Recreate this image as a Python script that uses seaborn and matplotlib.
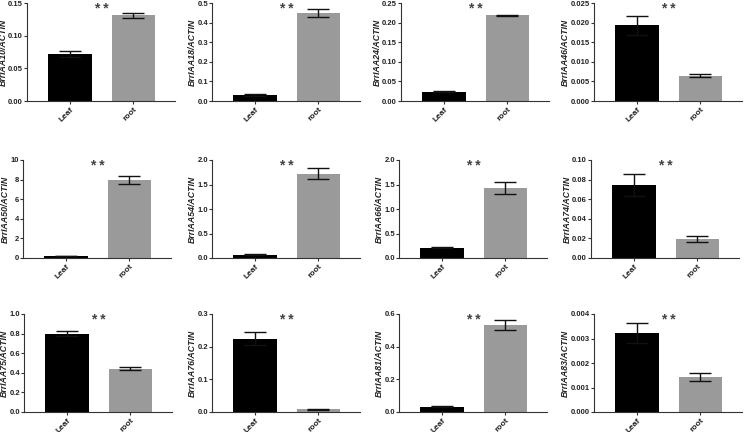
import matplotlib
matplotlib.use("Agg")
import matplotlib.pyplot as plt
import matplotlib.transforms as mtransforms
import seaborn as sns
import pandas as pd
import numpy as np

genes = ["BrrIAA10", "BrrIAA18", "BrrIAA24", "BrrIAA46",
         "BrrIAA50", "BrrIAA54", "BrrIAA66", "BrrIAA74",
         "BrrIAA75", "BrrIAA76", "BrrIAA81", "BrrIAA83"]
tissues = ["Leaf", "root"]
leaf_means = [0.072, 0.031, 0.024, 0.0193, 0.20, 0.07, 0.21, 0.0745, 0.80, 0.224, 0.032, 0.00322]
leaf_err = [0.004, 0.003, 0.001, 0.0024, 0.02, 0.01, 0.01, 0.0115, 0.027, 0.020, 0.002, 0.00042]
root_means = [0.131, 0.448, 0.219, 0.0065, 7.95, 1.72, 1.43, 0.0195, 0.443, 0.008, 0.533, 0.00144]
root_err = [0.004, 0.020, 0.0015, 0.00045, 0.40, 0.115, 0.13, 0.0028, 0.017, 0.0015, 0.033, 0.00016]
y_max = [0.15, 0.5, 0.25, 0.025, 10, 2.0, 2.0, 0.10, 1.0, 0.3, 0.6, 0.004]
y_step = [0.05, 0.1, 0.05, 0.005, 2, 0.5, 0.5, 0.02, 0.2, 0.1, 0.2, 0.001]
y_decimals = [2, 1, 2, 3, 0, 1, 1, 2, 1, 1, 1, 3]
signif = "* *"

sns.set_theme(style="ticks")
plt.rcParams['font.family'] = ['Liberation Sans', 'DejaVu Sans']

W, H = 744, 432
fig = plt.figure(figsize=(W / 100, H / 100), dpi=100)

# layout in pixels
lefts = [27, 212, 401, 594,
         23, 212, 399, 591,
         24, 212, 399, 594]
row_tops = [3, 160, 314]
row_h = 98
unit = 63.3
x_lo, x_hi = -0.68, 1.66
ax_w = (x_hi - x_lo) * unit

colors = ["#000000", "#9a9a9a"]

for i, g in enumerate(genes):
    r = i // 4
    left = lefts[i]
    top = row_tops[r]
    ax = fig.add_axes([left / W, (H - top - row_h) / H, ax_w / W, row_h / H])
    df = pd.DataFrame({"tissue": tissues, "value": [leaf_means[i], root_means[i]]})
    sns.barplot(data=df, x="tissue", y="value", hue="tissue", palette=colors,
                width=0.69, errorbar=None, legend=False, ax=ax, saturation=1,
                linewidth=0)
    ax.errorbar([0, 1], [leaf_means[i], root_means[i]],
                yerr=[leaf_err[i], root_err[i]], fmt="none", ecolor="#111111",
                elinewidth=1.0, capsize=8, capthick=1.0, zorder=5)
    ax.set_xlim(x_lo, x_hi)
    ax.set_ylim(0, y_max[i])
    ticks = np.arange(0, y_max[i] + y_step[i] / 2, y_step[i])
    ax.set_yticks(ticks)
    d = y_decimals[i]
    ax.set_yticklabels([f"{t:.{d}f}" for t in ticks], fontsize=5.5,
                       fontweight="bold", color="#222222")
    ax.set_xticks([0, 1])
    ax.set_xticklabels(tissues, rotation=45, ha="right", va="top",
                       rotation_mode="anchor", fontsize=6.0,
                       fontweight="bold", color="#222222")
    ax.tick_params(axis="x", length=2, width=0.8, pad=1.5, color="#333333")
    ax.tick_params(axis="y", length=2, width=0.8, pad=0.8, color="#333333")
    ax.set_xlabel("")
    ax.set_ylabel(g + "/ACTIN", fontsize=6.3, fontweight="bold",
                  fontstyle="italic", labelpad=0.5, color="#222222")
    for s in ["top", "right"]:
        ax.spines[s].set_visible(False)
    for s in ["left", "bottom"]:
        ax.spines[s].set_linewidth(0.8)
        ax.spines[s].set_color("#333333")
    off = mtransforms.offset_copy(ax.transData, fig=fig, x=0, y=-7.2, units="points")
    ax.text(0.5, y_max[i], signif, ha="center", va="baseline", fontsize=10,
            color="#444444", fontweight="bold", clip_on=False, transform=off)

fig.savefig("out.png", dpi=100)
